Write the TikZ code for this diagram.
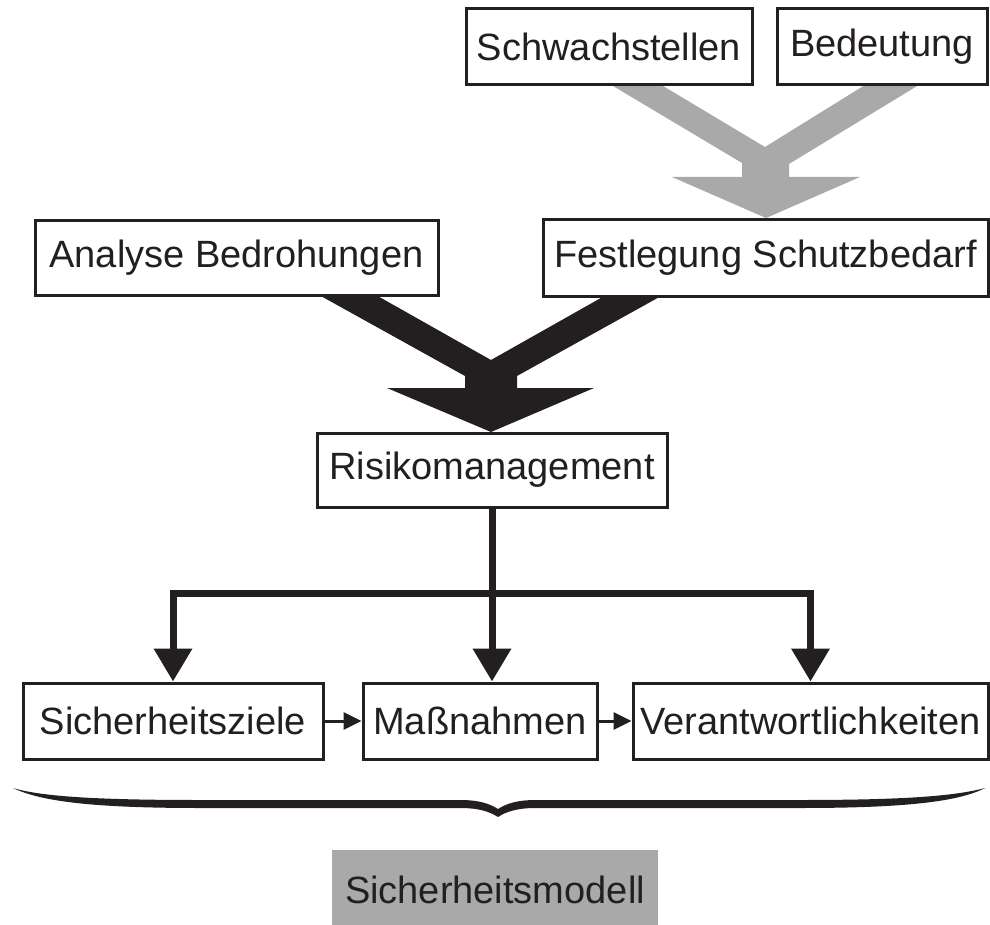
\documentclass[tikz,border=0pt]{standalone}
\usepackage{fontspec}
\setmainfont{Liberation Sans}
\usetikzlibrary{arrows.meta}
\definecolor{ink}{HTML}{231F20}
\definecolor{softgray}{HTML}{A9A9A9}
\begin{document}
\begin{tikzpicture}[x=1pt,y=-1pt,
  every node/.style={font=\fontsize{38}{44}\selectfont, text=ink},
  box/.style={draw=ink, line width=3pt, fill=white, minimum height=76pt,
    inner sep=0pt, line join=miter},
  fatconn/.style={draw=ink, line width=7pt, line join=miter,
    {Triangle[width=37pt,length=33pt]}-{Triangle[width=37pt,length=33pt]}},
  fatdown/.style={draw=ink, line width=7pt,
    -{Triangle[width=37pt,length=33pt]}},
  thinconn/.style={draw=ink, line width=3pt,
    -{Triangle[width=17pt,length=18pt]}}]
\useasboundingbox (0,0) rectangle (990,925);

% merging arrows
\fill[softgray] (603,80) -- (653,80) -- (765,147) -- (873,80) -- (927,80)
  -- (789,164) -- (789,177) -- (860,177) -- (766,218) -- (672,177)
  -- (742,177) -- (742,163) -- cycle;
\fill[ink] (310,290) -- (367,290) -- (491,360) -- (615,290) -- (672,290)
  -- (517,376) -- (517,388) -- (594,388) -- (491,432) -- (387,388)
  -- (465,388) -- (465,376) -- cycle;

% boxes
\node[box, minimum width=286pt] (schw) at (609,47) {Schwachstellen};
\node[box, minimum width=210pt] (bed) at (882,47) {Bedeutung};
\node[box, minimum width=403pt, minimum height=74pt] (anal) at (236.5,258) {Analyse Bedrohungen};
\node[box, minimum width=445pt] (fest) at (765.5,258) {Festlegung Schutzbedarf};
\node[box, minimum width=350pt, minimum height=74pt] (risk) at (492,470) {Risikomanagement};
\node[box, minimum width=300pt] (ziel) at (173,721) {Sicherheitsziele};
\node[box, minimum width=234pt] (mass) at (480,721) {Maßnahmen};
\node[box, minimum width=355pt] (verant) at (810.5,721) {Verantwortlichkeiten};

% distribution from risk management
\coordinate (bar) at (492,593);
\draw[fatconn] (ziel.north) |- (bar) -| (verant.north);
\draw[fatdown] (risk.south) -- (risk.south |- mass.north);
\draw[thinconn] (ziel.east) -- (mass.west);
\draw[thinconn] (mass.east) -- (verant.west);

% brace
\fill[ink] (13,788) .. controls (40,801) and (90,808) .. (200,808)
  -- (460,808) .. controls (480,808) and (490,812) .. (498,817)
  .. controls (506,812) and (516,808) .. (536,808)
  -- (800,808) .. controls (910,808) and (960,801) .. (985,788)
  .. controls (955,796) and (905,800) .. (800,800)
  -- (536,800) .. controls (516,800) and (506,804) .. (498,809)
  .. controls (490,804) and (480,800) .. (460,800)
  -- (200,800) .. controls (90,800) and (40,796) .. (13,788) -- cycle;

\node[fill=softgray, minimum width=326pt, minimum height=80pt, inner sep=0pt]
  (modell) at (495,890) {Sicherheitsmodell};
\end{tikzpicture}
\end{document}
